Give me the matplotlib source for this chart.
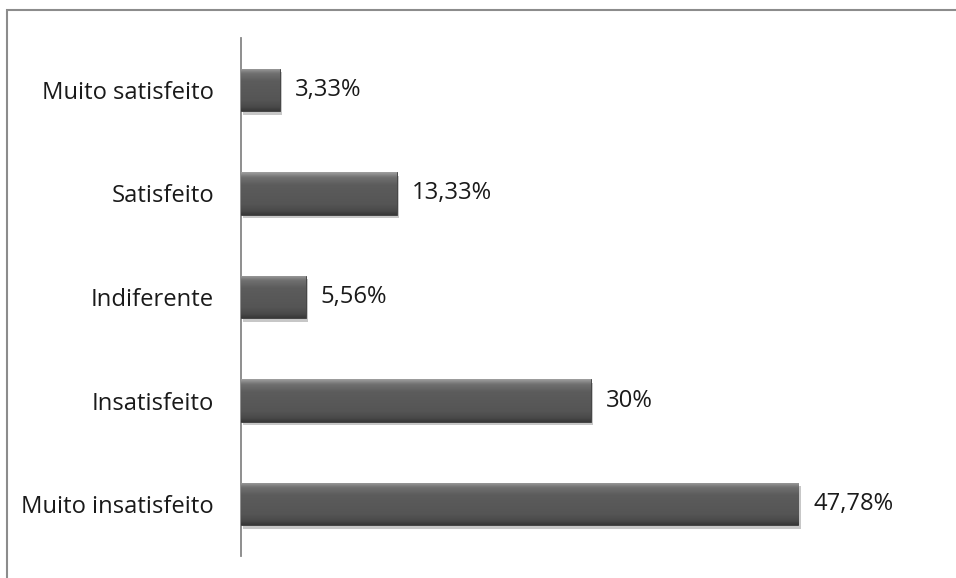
import matplotlib
matplotlib.use("Agg")
import matplotlib.pyplot as plt
import numpy as np
from matplotlib.patches import Rectangle
import matplotlib.patheffects as pe
from matplotlib.colors import LinearSegmentedColormap
from matplotlib.textpath import TextPath
from matplotlib.font_manager import FontProperties

categories = ["Muito insatisfeito", "Insatisfeito", "Indiferente", "Satisfeito", "Muito satisfeito"]
values = [47.78, 30, 5.56, 13.33, 3.33]
labels = ["47,78%", "30%", "5,56%", "13,33%", "3,33%"]

W, H = 956, 578
plt.rcParams['font.family'] = ['Open Sans', 'DejaVu Sans']
fig = plt.figure(figsize=(W / 100, H / 100), dpi=100)

# choose font size so the longest label is ~188 px wide
fp = FontProperties(family='Open Sans', size=100)
wpx = TextPath((0, 0), "Muito insatisfeito", prop=fp).get_extents().width
fs = 100 * 188 / (wpx * 100 / 72)

ax_left, ax_right = 241, 941
ax_top, ax_bot = 38, 556
ax = fig.add_axes([ax_left / W, (H - ax_bot) / H, (ax_right - ax_left) / W, (ax_bot - ax_top) / H])

fig.patches.append(Rectangle((7 / W, -0.1), 1.2, 1.1 - 10 / H, transform=fig.transFigure,
                             fill=False, edgecolor='#8c8c8c', linewidth=1.5, zorder=0))

y = np.arange(len(categories))
bars = ax.barh(y, values, height=0.41, color='#555555', edgecolor='#3a3a3a', linewidth=0.6, zorder=3,
               path_effects=[pe.SimplePatchShadow(offset=(1.5, -2.5), shadow_rgbFace='#000000', alpha=0.22),
                             pe.Normal()])

grad = np.linspace(0, 1, 200).reshape(-1, 1)
cmap = LinearSegmentedColormap.from_list('g', [(0, '#a0a0a0'), (0.12, '#707070'), (0.3, '#5c5c5c'),
                                               (0.75, '#555555'), (0.9, '#4a4a4a'), (1, '#383838')])
for b in bars:
    x0, y0, w, h = b.get_x(), b.get_y(), b.get_width(), b.get_height()
    im = ax.imshow(grad, extent=[x0, x0 + w, y0, y0 + h], cmap=cmap, aspect='auto', zorder=4,
                   interpolation='bilinear', origin='upper')
    im.set_clip_path(b)

for yi, v, lab in zip(y, values, labels):
    ax.annotate(lab, xy=(v, yi), xytext=(15, -6), textcoords='offset pixels',
                ha='left', va='baseline', fontsize=fs, color='#1a1a1a', zorder=5)

ax.set_xlim(0, 60)
ax.set_ylim(-0.5, 4.5)
ax.set_yticks(y)
ax.set_yticklabels(categories, fontsize=fs, color='#1a1a1a')
ax.tick_params(axis='y', length=0, pad=27 * 0.72)
ax.set_xticks([])
for s in ['top', 'right', 'bottom']:
    ax.spines[s].set_visible(False)
ax.spines['left'].set_color('#868686')
ax.spines['left'].set_linewidth(1.3)
ax.set_facecolor('none')

fig.savefig('out.png', dpi=100)
